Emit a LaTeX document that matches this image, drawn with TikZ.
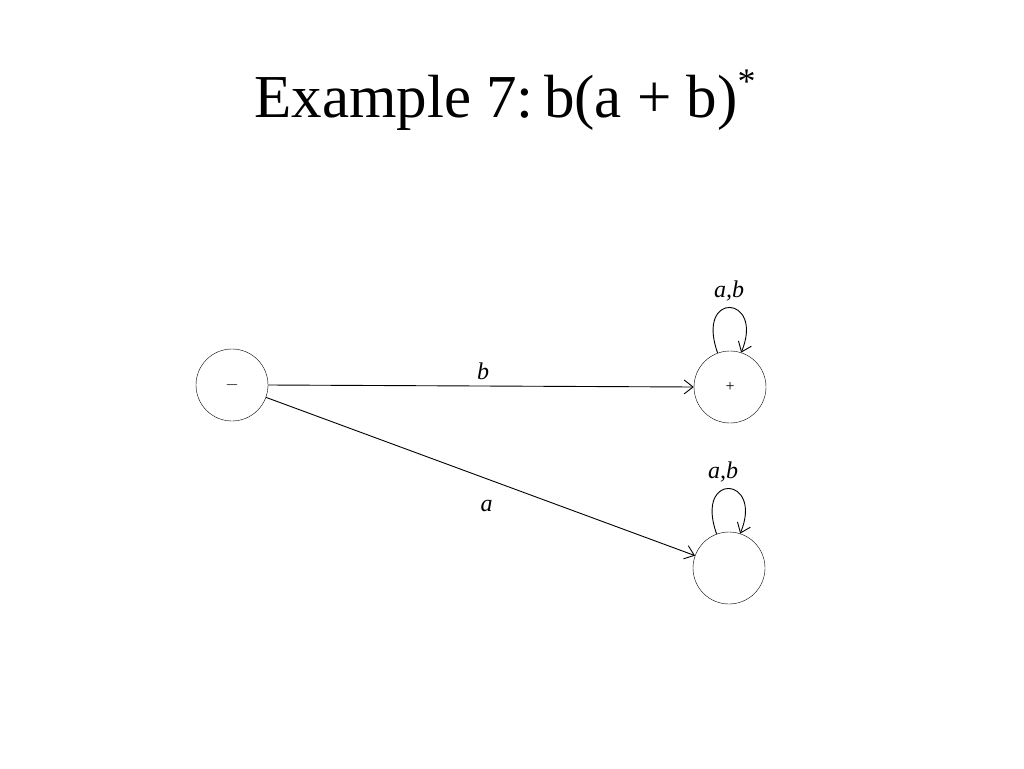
\documentclass[tikz,border=0pt]{standalone}
\usepackage{fontspec}
\setmainfont{Liberation Serif}
\usetikzlibrary{arrows.meta}
\tikzset{
  state/.style={draw,circle,minimum size=72pt,inner sep=0pt,font=\fontsize{16}{18}\selectfont},
  lbl/.style={font=\fontsize{24}{26}\selectfont\itshape},
  edge/.style={-{Straight Barb[length=9pt,width=14pt]},line width=.9pt}
}
\begin{document}
\begin{tikzpicture}[x=1pt,y=-1pt]
  \useasboundingbox (0,0) rectangle (1024,768);
  \node[font=\fontsize{61}{66}\selectfont] (title) at (505,100) {Example 7:\,b(a + b)\raisebox{24pt}{\fontsize{36}{38}\selectfont *}};

  % states
  \node[state] (start) at (232,385) {$-$};
  \node[state] (final) at (730,387) {+};
  \node[state] (dead) at (729,568) {};

  % transitions
  \draw[edge] (start.east) -- (final.west) node[lbl,midway,above=2pt,xshift=2pt] {b};
  \draw[edge] (start.-20) -- (dead.160) node[lbl,midway,below=20pt,xshift=6pt] {a};
  \draw[edge] (final.110) .. controls (695,290) and (765,295) .. (final.72);
  \draw[edge] (dead.110) .. controls (694,471) and (764,476) .. (dead.72);
  \node[lbl] (finallbl) at (729,291) {a,b};
  \node[lbl] (deadlbl) at (723,472) {a,b};
\end{tikzpicture}
\end{document}
